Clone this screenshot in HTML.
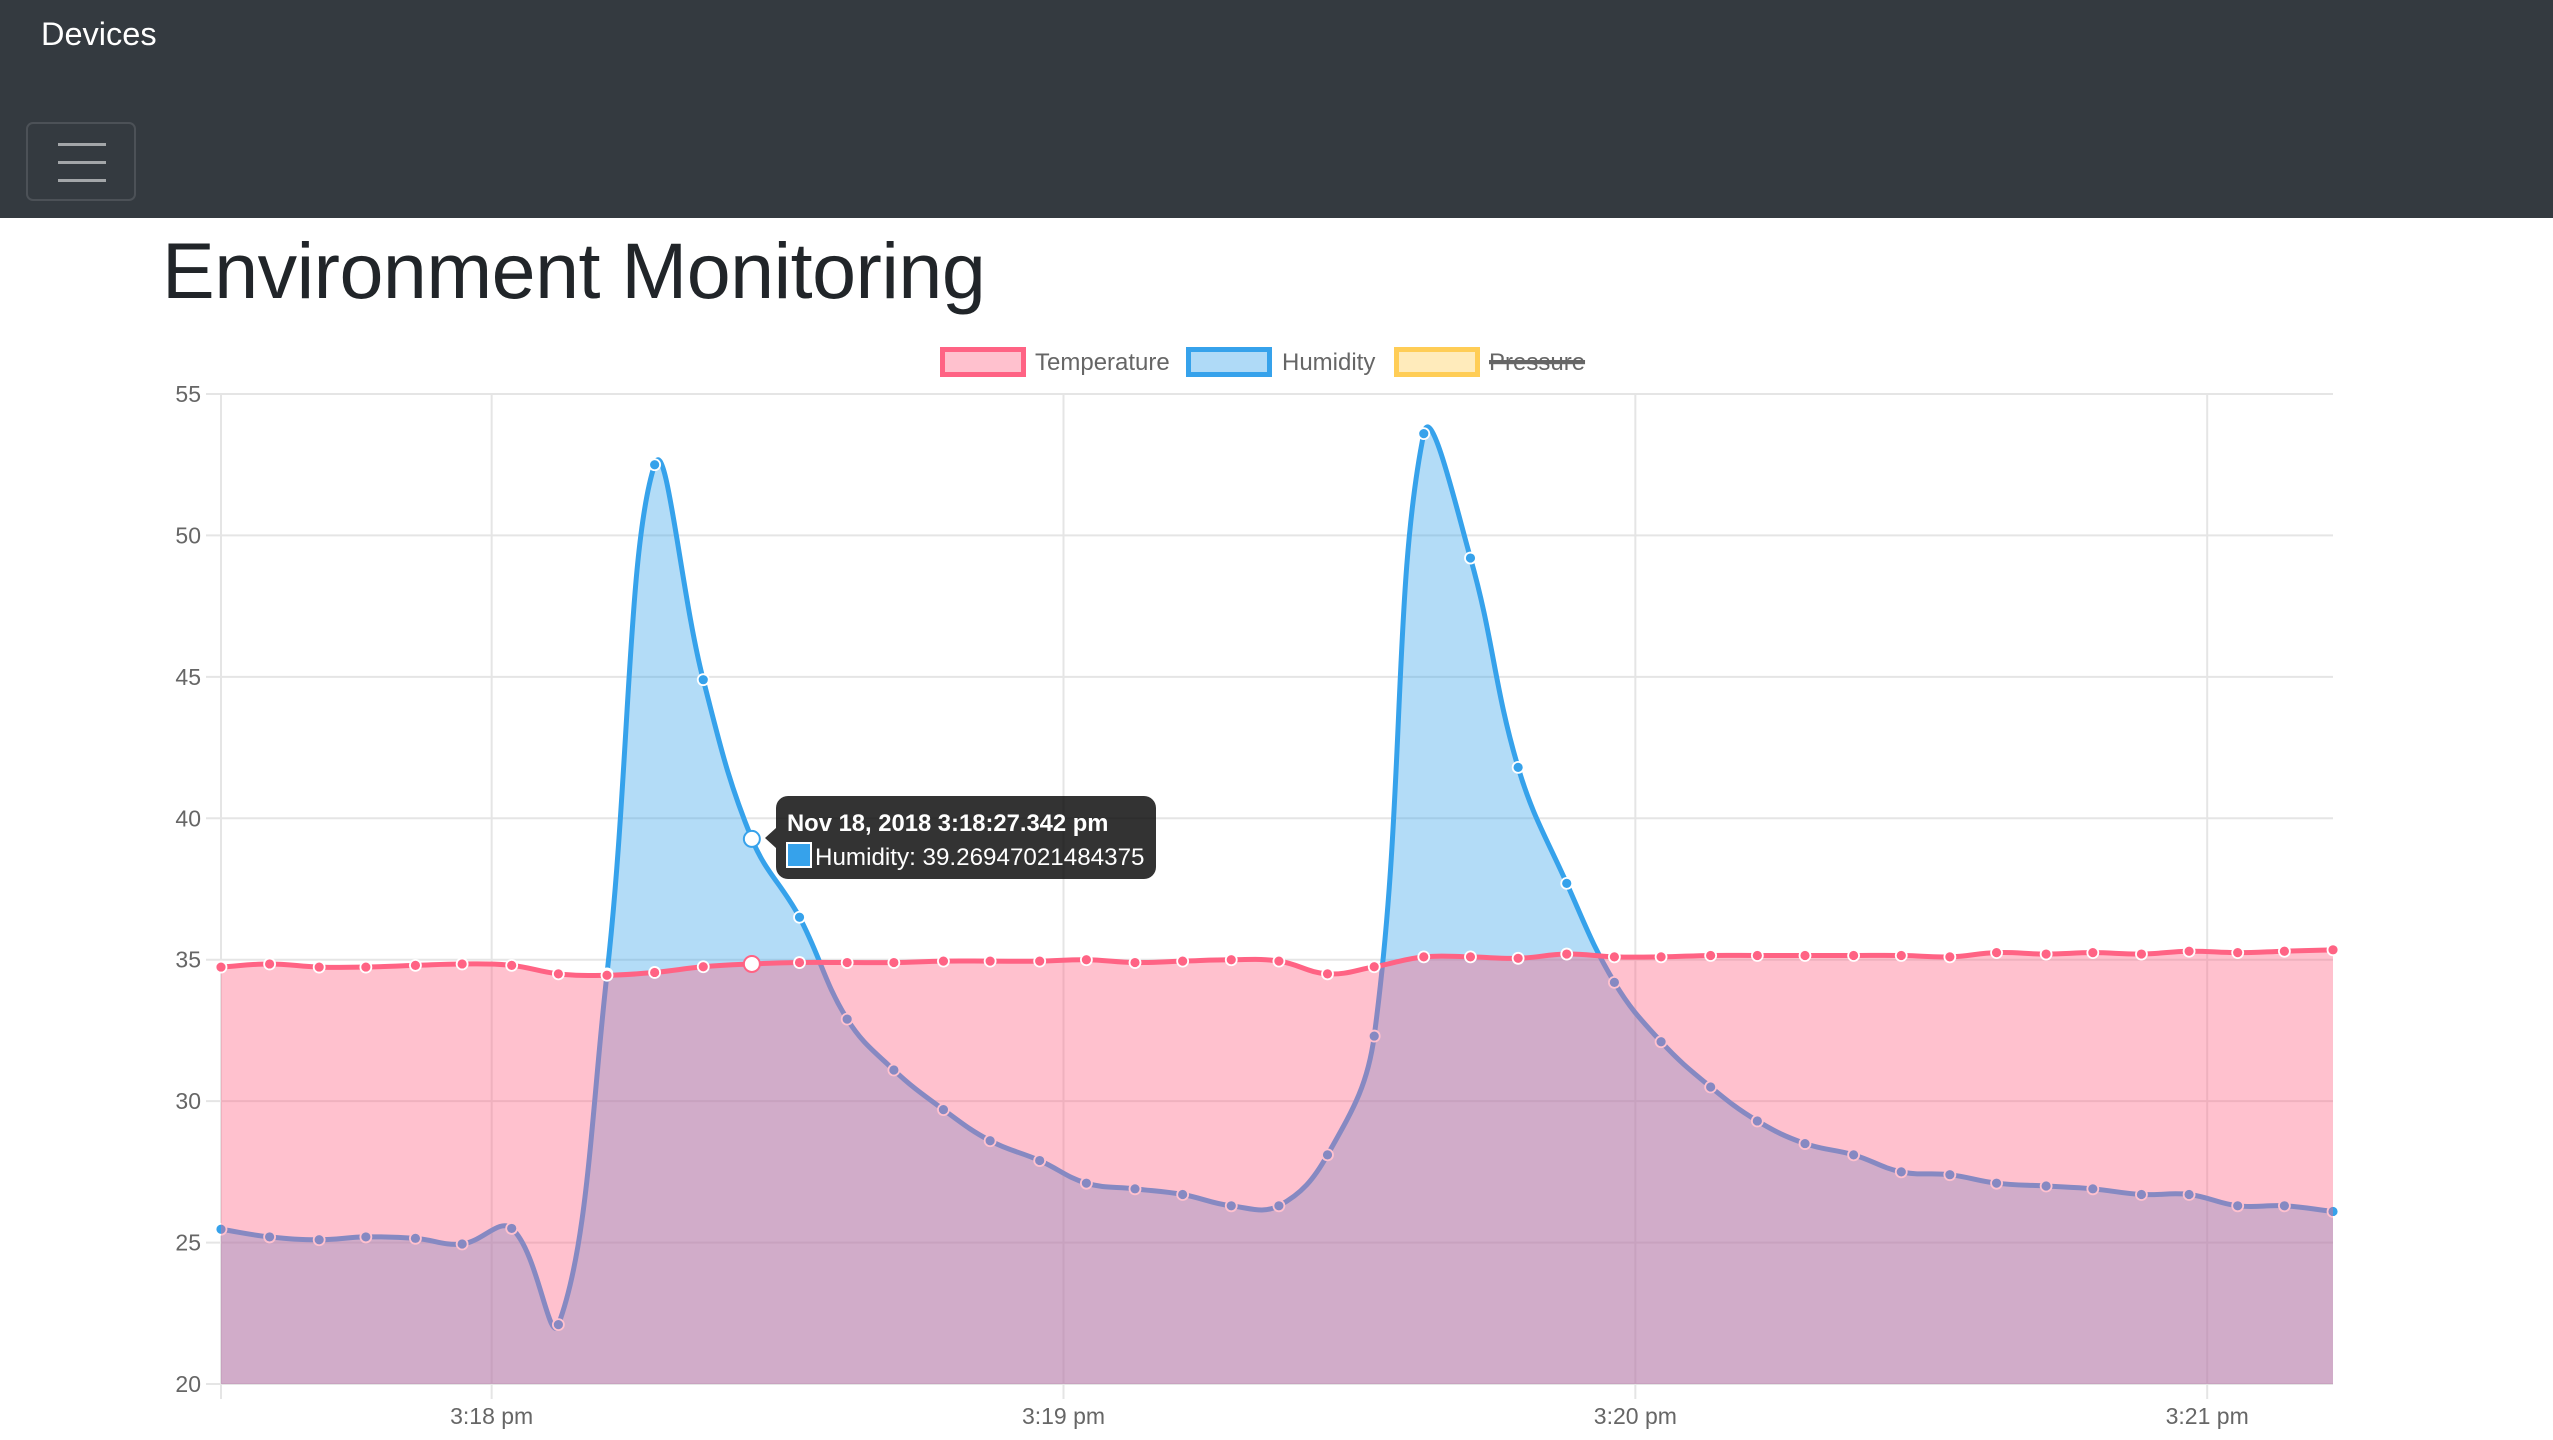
<!DOCTYPE html>
<html><head><meta charset="utf-8"><style>
html,body{margin:0;padding:0;width:2553px;height:1440px;overflow:hidden;background:#fff;font-family:"Liberation Sans",sans-serif}
#nav{position:absolute;left:0;top:0;width:2553px;height:218px;background:#343a40}
#brand{position:absolute;left:41px;top:16px;color:#fff;font-size:32.5px}
#toggler{position:absolute;left:26px;top:122px;width:110px;height:79px;border:2px solid rgba(255,255,255,0.12);border-radius:7px;box-sizing:border-box}
.bar{position:absolute;left:30px;width:48px;height:3px;background:rgba(255,255,255,0.55)}
#title{position:absolute;left:162px;top:231px;font-size:79px;line-height:1;color:#212529;margin:0;font-weight:normal;letter-spacing:-0.5px;white-space:nowrap}
svg{position:absolute;left:0;top:0}
</style></head><body>
<div id="nav">
<div id="brand">Devices</div>
<div id="toggler">
<div class="bar" style="top:19px"></div><div class="bar" style="top:37px"></div><div class="bar" style="top:55px"></div></div>
</div>
<h1 id="title">Environment Monitoring</h1>
<svg id="chart" width="2553" height="1440" viewBox="0 0 2553 1440"></svg>
<script>
const times=[-28.4,-23.3,-18.1,-13.2,-8.0,-3.1,2.1,7.0,12.1,17.1,22.2,27.3,32.3,37.3,42.2,47.4,52.3,57.5,62.4,67.5,72.5,77.6,82.6,87.7,92.6,97.8,102.7,107.7,112.8,117.8,122.7,127.9,132.8,137.8,142.9,147.9,153.0,157.9,163.1,168.0,173.1,178.1,183.2,188.1,193.2];
const temperature=[34.74,34.85,34.74,34.74,34.8,34.85,34.8,34.5,34.45,34.55,34.75,34.85,34.9,34.9,34.9,34.95,34.95,34.95,35.0,34.9,34.95,35.0,34.95,34.5,34.75,35.1,35.1,35.05,35.2,35.1,35.1,35.15,35.15,35.15,35.15,35.15,35.1,35.25,35.2,35.25,35.2,35.3,35.25,35.3,35.35];
const humidity=[25.47,25.2,25.1,25.2,25.15,24.95,25.5,22.1,34.5,52.5,44.9,39.27,36.5,32.9,31.1,29.7,28.6,27.9,27.1,26.9,26.7,26.3,26.3,28.1,32.3,53.6,49.2,41.8,37.7,34.2,32.1,30.5,29.3,28.5,28.1,27.5,27.4,27.1,27.0,26.9,26.7,26.7,26.3,26.3,26.1];
const yTicks=[20,25,30,35,40,45,50,55];
const xTicks=[0,60,120,180];
const xTickLabels=["3:18 pm","3:19 pm","3:20 pm","3:21 pm"];
const hoverIndex=11;

const svg=document.getElementById('chart');
const NS='http://www.w3.org/2000/svg';
const L=221,R=2333,T=394,B=1384;
const tMin=times[0],tMax=times[times.length-1];
const xs=t=>L+(t-tMin)/(tMax-tMin)*(R-L);
const ys=v=>B-(v-20)/(55-20)*(B-T);
function mk(tag,attrs,parent){const e=document.createElementNS(NS,tag);for(const k in attrs)e.setAttribute(k,attrs[k]);(parent||svg).appendChild(e);return e;}

yTicks.forEach(v=>{
  const g=mk('line',{x1:L-15,x2:R,y1:ys(v),y2:ys(v),stroke:'#e5e5e5','stroke-width':2});
  
  
  const t=mk('text',{x:L-20,y:ys(v)+8,'text-anchor':'end','font-size':23,fill:'#666','font-family':'Liberation Sans, sans-serif'});
  t.textContent=v;
  
  
});
const ax=mk('line',{x1:L,x2:L,y1:T,y2:B+15,stroke:'#e5e5e5','stroke-width':2});


xTicks.forEach((s,i)=>{
  const g=mk('line',{x1:xs(s),x2:xs(s),y1:T,y2:B+15,stroke:'#e5e5e5','stroke-width':2});
  
  
  const t=mk('text',{x:xs(s),y:1424,'text-anchor':'middle','font-size':23,fill:'#666','font-family':'Liberation Sans, sans-serif'});
  t.textContent=xTickLabels[i];
  
  
});

function curve(vals){
  const p=vals.map((v,i)=>({x:xs(times[i]),y:ys(v)}));
  const tension=0.4;
  p.forEach((c,i)=>{
    const pr=p[i-1]||c,nx=p[i+1]||c;
    const d01=Math.hypot(c.x-pr.x,c.y-pr.y),d12=Math.hypot(nx.x-c.x,nx.y-c.y);
    let s01=d01/(d01+d12),s12=d12/(d01+d12);if(isNaN(s01))s01=0;if(isNaN(s12))s12=0;
    const fa=tension*s01,fb=tension*s12;
    c.c1={x:c.x-fa*(nx.x-pr.x),y:c.y-fa*(nx.y-pr.y)};
    c.c2={x:c.x+fb*(nx.x-pr.x),y:c.y+fb*(nx.y-pr.y)};
  });
  let d='M'+p[0].x+','+p[0].y;
  for(let i=1;i<p.length;i++){d+=' C'+p[i-1].c2.x+','+p[i-1].c2.y+' '+p[i].c1.x+','+p[i].c1.y+' '+p[i].x+','+p[i].y;}
  return {d,p};
}
function series(vals,line,fill,name){
  const c=curve(vals);
  const a=mk('path',{d:c.d+' L'+c.p[c.p.length-1].x+','+B+' L'+c.p[0].x+','+B+' Z',fill:fill,stroke:'none'});
  
  
  const l=mk('path',{d:c.d,fill:'none',stroke:line,'stroke-width':5});
  
  
  c.p.forEach((pt,i)=>{
    const h=i===hoverIndex;
    const ci=mk('circle',{cx:pt.x,cy:pt.y,r:h?8:5.5,fill:h?'#fff':line,stroke:h?line:'#fff','stroke-width':h?2:1.8});
    
    
  });
}
series(humidity,'#36a2eb','rgba(54,162,235,0.38)','humidity');
series(temperature,'#ff6384','rgba(255,99,132,0.4)','temperature');

const leg=[['Temperature','#ff6384','rgba(255,99,132,0.4)',940,1035,false],['Humidity','#36a2eb','rgba(54,162,235,0.4)',1186,1282,false],['Pressure','#ffcd56','rgba(255,205,86,0.4)',1394,1489,true]];
leg.forEach(l=>{
  const b=mk('rect',{x:l[3]+2.5,y:349.5,width:81,height:25,fill:l[2],stroke:l[1],'stroke-width':5});
  
  
  const t=mk('text',{x:l[4],y:370,'font-size':24,fill:'#666','font-family':'Liberation Sans, sans-serif','text-decoration':l[5]?'line-through':'none'});
  t.textContent=l[0];
  
  
  if(l[5]){const w=t.getComputedTextLength?t.getComputedTextLength():93;mk('line',{x1:l[4],x2:l[4]+w,y1:361,y2:361,stroke:'#666','stroke-width':2});}
});

const tg=mk('g',{});


mk('path',{d:'M776,808 a12,12 0 0 1 12,-12 H1144 a12,12 0 0 1 12,12 V867 a12,12 0 0 1 -12,12 H788 a12,12 0 0 1 -12,-12 V848 L765,838 L776,828 Z',fill:'rgba(0,0,0,0.8)'},tg);
const t1=mk('text',{x:787,y:831,'font-size':23.8,'font-weight':'bold',fill:'#fff','font-family':'Liberation Sans, sans-serif'},tg);
t1.textContent='Nov 18, 2018 3:18:27.342 pm';
mk('rect',{x:787,y:843,width:24,height:24,fill:'#36a2eb',stroke:'#fff','stroke-width':2},tg);
const t2=mk('text',{x:815,y:865,'font-size':24.2,fill:'#fff','font-family':'Liberation Sans, sans-serif'},tg);
t2.textContent='Humidity: '+humidity[hoverIndex].toFixed(2).replace('39.27','39.26947021484375');
</script>
</body></html>
